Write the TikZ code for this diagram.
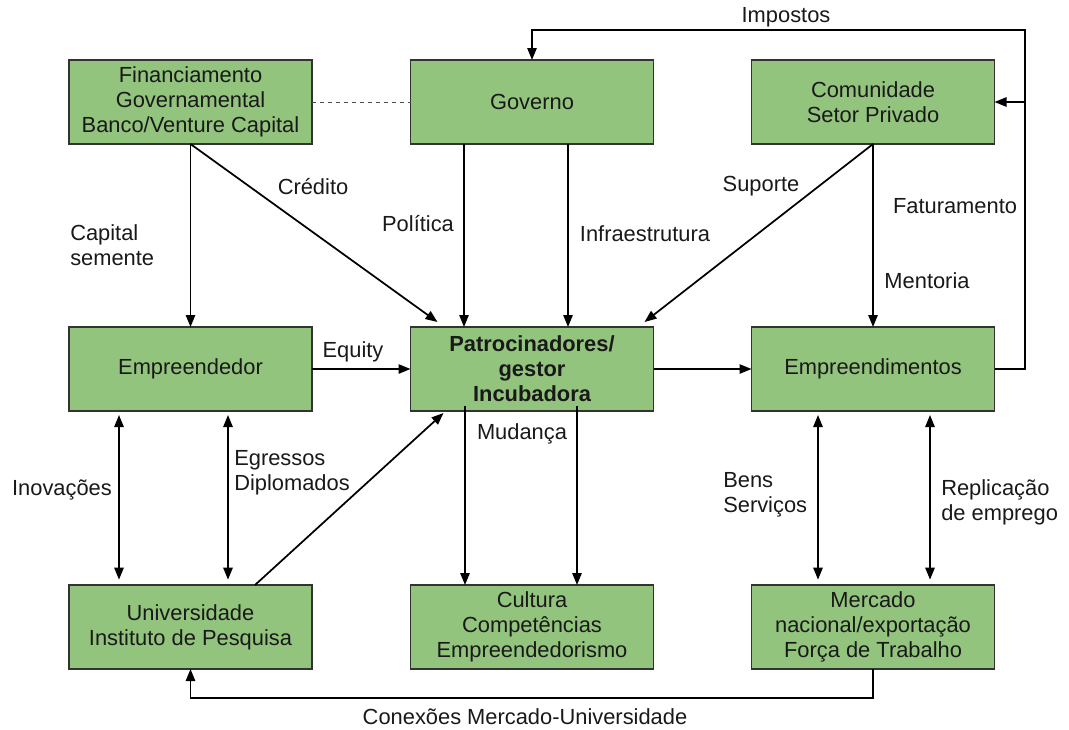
\documentclass[tikz,border=0pt]{standalone}
\usepackage{fontspec}
\setmainfont{Liberation Sans}
\usetikzlibrary{arrows.meta,calc}
\definecolor{boxgreen}{HTML}{93C47D}
\definecolor{boxline}{HTML}{333333}
\begin{document}
\begin{tikzpicture}[x=0.75pt,y=-0.75pt,
  txt/.style={font=\fontsize{16.4pt}{18.75pt}\selectfont, text=black!90},
  box/.style={txt, draw=boxline, line width=0.8pt, fill=boxgreen,
    minimum width=182.25pt, minimum height=63pt, inner sep=0pt, outer sep=0pt, align=center},
  arr/.style={line width=1.3pt, -{Triangle[length=9pt,width=7pt]}},
  darr/.style={line width=1.3pt, {Triangle[length=9pt,width=7pt]}-{Triangle[length=9pt,width=7pt]}},
  lbl/.style={txt, inner sep=0pt, align=center},
  lbll/.style={txt, inner sep=0pt, align=left, anchor=west}]
\useasboundingbox (0,0) rectangle (1069,729);

% boxes
\node[box] (fin) at (190.5,102) {Financiamento\\Governamental\\Banco/Venture Capital};
\node[box] (gov) at (532,102) {Governo};
\node[box] (com) at (873,102) {Comunidade\\Setor Privado};
\node[box] (ent) at (190.5,369) {Empreendedor};
\node[box] (pat) at (532,369) {\bfseries Patrocinadores/\\\bfseries gestor\\\bfseries Incubadora};
\node[box] (emp) at (873,369) {Empreendimentos};
\node[box] (uni) at (190.5,627) {Universidade\\Instituto de Pesquisa};
\node[box] (cul) at (532,627) {Cultura\\Competências\\Empreendedorismo};
\node[box] (mer) at (873,627) {Mercado\\nacional/exportação\\Força de Trabalho};

% dashed link
\draw[dashed, line width=0.6pt, black!70] (fin.east) -- (gov.west);

% top row down to middle row
\draw[arr] (fin.south) -- (ent.north);
\draw[arr] (fin.south) -- ($(pat.north west)+(27,-5)$);
\draw[arr] ($(gov.south)+(-68,0)$) -- ($(pat.north)+(-68,0)$);
\draw[arr] ($(gov.south)+(36,0)$) -- ($(pat.north)+(36,0)$);
\draw[arr] (com.south) -- ($(pat.north east)+(-9,-5)$);
\draw[arr] (com.south) -- (emp.north);

% middle row
\draw[arr] (ent.east) -- (pat.west);
\draw[arr] (pat.east) -- (emp.east -| emp.west);

% feedback loop: Faturamento / Impostos
\coordinate (loop) at (1025,30);
\draw[arr] (emp.east) -| (loop) -| (gov.north);
\draw[arr] (com.east -| loop) -- (com.east);

% middle row to bottom row
\draw[darr, shorten <=3pt, shorten >=4pt] ($(ent.south)+(-71.5,0)$) -- ($(uni.north)+(-71.5,0)$);
\draw[darr, shorten <=3pt, shorten >=4pt] ($(ent.south)+(37.5,0)$) -- ($(uni.north)+(37.5,0)$);
\draw[arr] ($(uni.north west)+(186,0)$) -- ($(pat.south west)+(33,2)$);
\draw[arr] ($(pat.south)+(-67,-5)$) -- ($(cul.north)+(-67,0)$);
\draw[arr] ($(pat.south)+(45,-5)$) -- ($(cul.north)+(45,0)$);
\draw[darr, shorten <=3pt, shorten >=4pt] ($(emp.south)+(-55,0)$) -- ($(mer.north)+(-55,0)$);
\draw[darr, shorten <=3pt, shorten >=4pt] ($(emp.south)+(57,0)$) -- ($(mer.north)+(57,0)$);

% bottom return path
\draw[arr] (mer.south) -- ++(0,29) -| (uni.south);

% connector labels
\node[lbl] (limp) at (786,17) {Impostos};
\node[lbll] (lcap) at (70,245.5) {Capital\\semente};
\node[lbl] (lcre) at (313,187) {Crédito};
\node[lbl] (lpol) at (418,224) {Política};
\node[lbl] (linf) at (645,234) {Infraestrutura};
\node[lbl] (lsup) at (761,186) {Suporte};
\node[lbl] (lmen) at (927,281) {Mentoria};
\node[lbl] (lfat) at (955,206) {Faturamento};
\node[lbl] (lequ) at (353,352) {Equity};
\node[lbl] (linv) at (62,490) {Inovações};
\node[lbll] (legr) at (234,472.5) {Egressos\\Diplomados};
\node[lbl] (lmud) at (522,434) {Mudança};
\node[lbll] (lben) at (723,494.5) {Bens\\Serviços};
\node[lbll] (lrep) at (941,502.5) {Replicação\\de emprego};
\node[lbl] (lcon) at (525,717) {Conexões Mercado-Universidade};
\end{tikzpicture}
\end{document}
